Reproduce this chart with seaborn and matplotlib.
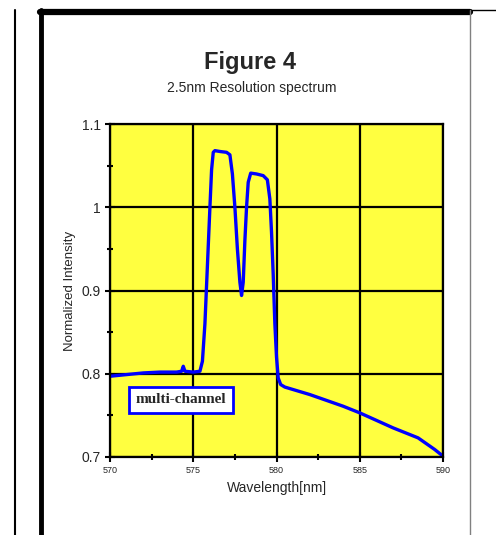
import numpy as np
import pandas as pd
import seaborn as sns
import matplotlib.pyplot as plt
from matplotlib.lines import Line2D
from matplotlib.ticker import MultipleLocator

# Espectro (longitud de onda en nm, intensidad normalizada)
wavelength = [570.0, 571.0, 572.0, 573.0, 574.0, 574.3, 574.4, 574.5, 575.0, 575.4,
              575.55, 575.7, 575.85, 576.0, 576.1, 576.2, 576.3, 576.6, 577.0, 577.2,
              577.35, 577.5, 577.65, 577.8, 577.9, 578.0, 578.1, 578.2, 578.3, 578.45,
              578.8, 579.2, 579.45, 579.6, 579.7, 579.8, 579.9, 580.0, 580.1, 580.25,
              580.5, 581.0, 582.0, 583.0, 584.0, 585.0, 586.0, 587.0, 588.0, 588.5,
              589.0, 589.5, 590.0]
intensity = [0.797, 0.799, 0.801, 0.802, 0.802, 0.803, 0.809, 0.803, 0.802, 0.803,
             0.815, 0.860, 0.930, 1.000, 1.045, 1.066, 1.068, 1.067, 1.066, 1.063,
             1.040, 1.000, 0.950, 0.910, 0.894, 0.910, 0.960, 1.000, 1.030, 1.041,
             1.040, 1.038, 1.033, 1.010, 0.970, 0.920, 0.860, 0.820, 0.795, 0.787,
             0.784, 0.781, 0.775, 0.768, 0.761, 0.753, 0.744, 0.735, 0.727, 0.723,
             0.716, 0.709, 0.701]

x_ticks = [570, 575, 580, 585, 590]
y_ticks = [0.7, 0.8, 0.9, 1.0, 1.1]
y_tick_labels = ['0.7', '0.8', '0.9', '1', '1.1']

df = pd.DataFrame({'wl': wavelength, 'val': intensity})

sns.set_style("white")
plt.rcParams['font.family'] = ['Liberation Sans', 'DejaVu Sans']

fig = plt.figure(figsize=(4.96, 5.35), dpi=100)
ax = fig.add_axes([0.2218, 0.1458, 0.6714, 0.6224])
ax.set_facecolor('#ffff40')

sns.lineplot(data=df, x='wl', y='val', color='#0000ff', linewidth=2.4, ax=ax)

ax.set_xlim(570, 590)
ax.set_ylim(0.7, 1.1)
ax.set_xticks(x_ticks)
ax.set_xticklabels([str(t) for t in x_ticks], fontsize=6.5)
ax.set_yticks(y_ticks)
ax.set_yticklabels(y_tick_labels, fontsize=10)
ax.xaxis.set_minor_locator(MultipleLocator(2.5))
ax.yaxis.set_minor_locator(MultipleLocator(0.05))
ax.tick_params(which='major', direction='inout', length=7, width=1.5, color='black', pad=3)
ax.tick_params(which='minor', direction='inout', length=5, width=1.5, color='black')
ax.tick_params(axis='x', which='both', bottom=True)
ax.tick_params(axis='y', which='both', left=True)

ax.grid(True, which='major', color='black', linewidth=1.6)
for s in ax.spines.values():
    s.set_color('black')
    s.set_linewidth(1.6)

ax.set_xlabel('Wavelength[nm]', fontsize=10, labelpad=4)
ax.set_ylabel('Normalized Intensity', fontsize=9.5, labelpad=4)

ax.text(574.25, 0.7685, 'multi-channel', family='Liberation Serif', fontweight='bold',
        fontsize=11, ha='center', va='center',
        bbox=dict(boxstyle='square,pad=0.45', facecolor='white', edgecolor='#0000ff', linewidth=2))

fig.text(0.504, 0.884, 'Figure 4', fontsize=17, fontweight='bold', ha='center', va='center')
fig.text(0.508, 0.835, '2.5nm Resolution spectrum', fontsize=10, ha='center', va='center')

# marco de la pagina
fig.add_artist(Line2D([15 / 496, 15 / 496], [0, 1 - 10 / 535], color='black', linewidth=1.5))
fig.add_artist(Line2D([41 / 496, 41 / 496], [0, 1 - 10 / 535], color='black', linewidth=3.5))
fig.add_artist(Line2D([40 / 496, 470 / 496], [1 - 12 / 535, 1 - 12 / 535], color='black', linewidth=4.5))
fig.add_artist(Line2D([470 / 496, 1], [1 - 10 / 535, 1 - 10 / 535], color='black', linewidth=1))
fig.add_artist(Line2D([470 / 496, 470 / 496], [0, 1 - 10 / 535], color='gray', linewidth=1))

fig.savefig('out.png', dpi=100)
